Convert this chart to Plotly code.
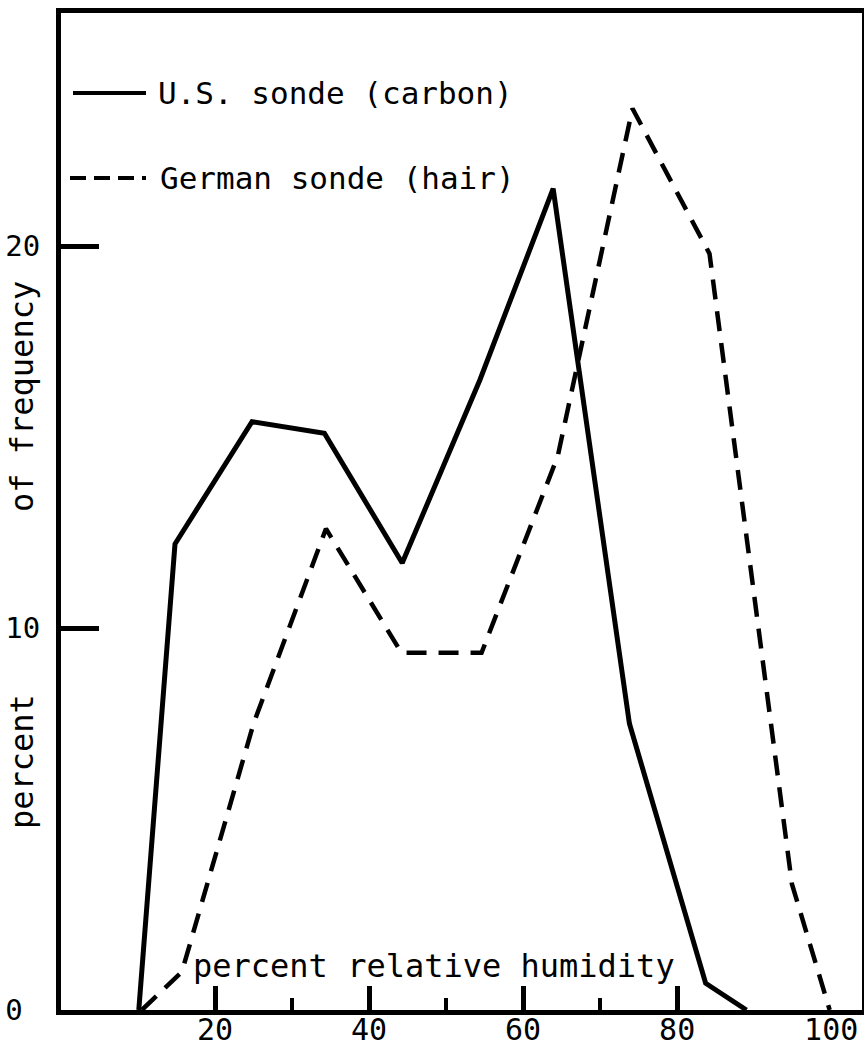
import plotly.graph_objects as go

# ---- data ----
rh_us = [10.1, 14.8, 24.8, 34.2, 44.3, 54.4, 63.9, 73.8, 83.7, 89.0]
freq_us = [0.0, 12.2, 15.4, 15.1, 11.7, 16.5, 21.5, 7.5, 0.7, 0.0]

rh_de = [10.5, 15.7, 25.0, 34.4, 44.2, 54.6, 64.5, 74.2, 84.2, 94.9, 99.8]
freq_de = [0.0, 1.0, 7.5, 12.6, 9.35, 9.35, 14.5, 23.6, 19.8, 3.3, 0.0]

x_major = [20, 40, 60, 80]
x_minor = [30, 50, 70]
x_labels_vals = [20, 40, 60, 80, 100]
x_labels = ["20", "40", "60", "80", "100"]
y_vals = [0, 10, 20]
y_labels = ["0\u00a0", "10", "20"]

series_names = ["U.S. sonde (carbon)", "German sonde (hair)"]

FONT = "DejaVu Sans Mono"
X_RANGE = [0, 104.0]
Y_RANGE = [0, 26.1]

fig = go.Figure()
fig.add_trace(go.Scatter(x=rh_us, y=freq_us, mode="lines", name=series_names[0],
                         line=dict(color="black", width=5), showlegend=False))
fig.add_trace(go.Scatter(x=rh_de, y=freq_de, mode="lines", name=series_names[1],
                         line=dict(color="black", width=4.5, dash="20px,12px"),
                         showlegend=False))
# helper trace so the label axis is drawn
fig.add_trace(go.Scatter(x=[], y=[], xaxis="x2", showlegend=False, hoverinfo="skip"))

fig.update_layout(
    width=864, height=1047,
    margin=dict(l=61, r=2, t=13, b=37, autoexpand=False),
    paper_bgcolor="white", plot_bgcolor="white",
    font=dict(family=FONT, color="black"),
    showlegend=False,
    xaxis=dict(range=X_RANGE, showgrid=False, zeroline=False, automargin=False,
               showline=True, linewidth=5, linecolor="black", mirror=True,
               tickvals=x_major, ticks="inside", ticklen=24, tickwidth=5,
               tickcolor="black", showticklabels=False,
               minor=dict(tickvals=x_minor, ticks="inside", ticklen=12,
                          tickwidth=4, tickcolor="black", showgrid=False)),
    xaxis2=dict(range=X_RANGE, overlaying="x", anchor="y", side="bottom",
                automargin=False,
                showgrid=False, zeroline=False, showline=False,
                tickvals=x_labels_vals, ticktext=x_labels, ticks="",
                tickfont=dict(family=FONT, size=30, color="black"),
                ticklabelstandoff=-1),
    yaxis=dict(range=Y_RANGE, showgrid=False, zeroline=False, automargin=False,
               showline=True, linewidth=5, linecolor="black", mirror=True,
               tickvals=y_vals, ticktext=y_labels, ticks="inside", ticklen=38,
               tickwidth=5, tickcolor="black",
               tickfont=dict(family=FONT, size=29, color="black"),
               ticklabelstandoff=10),
)

W = 801.0
H = 997.0
def px(xp):
    return (xp - 61) / W
def py(yp):
    return (1010 - yp) / H

# legend samples
fig.add_shape(type="line", xref="paper", yref="paper",
              x0=px(73), x1=px(146), y0=py(93), y1=py(93),
              line=dict(color="black", width=4))
fig.add_shape(type="line", xref="paper", yref="paper",
              x0=px(70), x1=px(146), y0=py(178), y1=py(178),
              line=dict(color="black", width=4, dash="16px,8px"))
fig.add_annotation(text=series_names[0], xref="paper", yref="paper",
                   x=px(156), y=py(93), xanchor="left", yanchor="middle",
                   showarrow=False, font=dict(family=FONT, size=31, color="black"))
fig.add_annotation(text=series_names[1], xref="paper", yref="paper",
                   x=px(158), y=py(178), xanchor="left", yanchor="middle",
                   showarrow=False, font=dict(family=FONT, size=31, color="black"))

# axis titles
fig.add_annotation(text="percent relative humidity", xref="paper", yref="paper",
                   x=px(434), y=py(966), xanchor="center", yanchor="middle",
                   showarrow=False, font=dict(family=FONT, size=32, color="black"))
fig.add_annotation(text="of frequency", xref="paper", yref="paper",
                   x=px(22), y=py(397), xanchor="center", yanchor="middle",
                   textangle=-90, showarrow=False,
                   font=dict(family=FONT, size=32, color="black"))
fig.add_annotation(text="percent", xref="paper", yref="paper",
                   x=px(22), y=py(762), xanchor="center", yanchor="middle",
                   textangle=-90, showarrow=False,
                   font=dict(family=FONT, size=32, color="black"))

fig.write_html("out.html",
               config={"displayModeBar": False},
               post_script="document.body.style.margin='0';"
                           "document.body.style.overflow='hidden';")
